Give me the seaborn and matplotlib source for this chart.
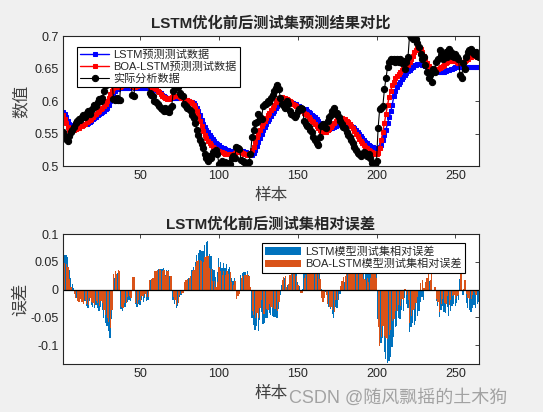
import numpy as np
import pandas as pd
import matplotlib
matplotlib.use("Agg")
import matplotlib.pyplot as plt
import seaborn as sns

# actual test data (black)
actual = [
    0.552, 0.546, 0.541, 0.538, 0.546, 0.552, 0.556, 0.560, 0.566, 0.570,
    0.572, 0.571, 0.575, 0.578, 0.576, 0.582, 0.585, 0.580, 0.586, 0.590,
    0.594, 0.592, 0.598, 0.603, 0.600, 0.605, 0.616, 0.625, 0.632, 0.642,
    0.657, 0.640, 0.603, 0.602, 0.605, 0.601, 0.602, 0.643, 0.645, 0.640,
    0.640, 0.634, 0.632, 0.634, 0.609, 0.608, 0.637, 0.640, 0.636, 0.638,
    0.632, 0.634, 0.630, 0.633, 0.632, 0.612, 0.610, 0.608, 0.600, 0.598,
    0.595, 0.592, 0.590, 0.588, 0.585, 0.590, 0.584, 0.583, 0.590, 0.592,
    0.615, 0.620, 0.625, 0.622, 0.612, 0.610, 0.608, 0.595, 0.592, 0.590,
    0.588, 0.585, 0.578, 0.574, 0.566, 0.555, 0.548, 0.540, 0.534, 0.528,
    0.518, 0.512, 0.508, 0.515, 0.513, 0.522, 0.520, 0.524, 0.518, 0.503,
    0.505, 0.508, 0.503, 0.506, 0.502, 0.505, 0.503, 0.512, 0.515, 0.512,
    0.530, 0.528, 0.526, 0.510, 0.508, 0.506, 0.505, 0.503, 0.506, 0.518,
    0.545, 0.555, 0.566, 0.568, 0.580, 0.575, 0.572, 0.592, 0.596, 0.595,
    0.600, 0.598, 0.605, 0.610, 0.615, 0.620, 0.625, 0.618, 0.605, 0.596,
    0.592, 0.590, 0.600, 0.595, 0.585, 0.580, 0.578, 0.575, 0.578, 0.585,
    0.588, 0.590, 0.588, 0.570, 0.565, 0.562, 0.560, 0.555, 0.552, 0.545,
    0.540, 0.535, 0.533, 0.545, 0.562, 0.565, 0.560, 0.558, 0.570, 0.575,
    0.578, 0.585, 0.590, 0.580, 0.582, 0.575, 0.570, 0.565, 0.560, 0.558,
    0.552, 0.548, 0.545, 0.540, 0.536, 0.530, 0.524, 0.520, 0.518, 0.515,
    0.518, 0.522, 0.520, 0.516, 0.518, 0.512, 0.505, 0.503, 0.502, 0.508,
    0.558, 0.588, 0.590, 0.592, 0.618, 0.635, 0.652, 0.660, 0.665, 0.662,
    0.665, 0.660, 0.665, 0.660, 0.665, 0.658, 0.662, 0.650, 0.660, 0.668,
    0.702, 0.698, 0.695, 0.700, 0.696, 0.690, 0.683, 0.672, 0.665, 0.668,
    0.655, 0.645, 0.635, 0.640, 0.630, 0.650, 0.645, 0.660, 0.665, 0.678,
    0.670, 0.665, 0.672, 0.675, 0.668, 0.680, 0.675, 0.670, 0.668, 0.672,
    0.668, 0.665, 0.640, 0.635, 0.658, 0.650, 0.668, 0.675, 0.678, 0.680,
    0.676, 0.672, 0.675, 0.670, 0.668,
]

# LSTM prediction (blue)
lstm_pred = [
    0.583, 0.580, 0.575, 0.570, 0.565, 0.563, 0.562, 0.562, 0.561, 0.561,
    0.561, 0.562, 0.563, 0.563, 0.564, 0.565, 0.566, 0.568, 0.570, 0.572,
    0.574, 0.576, 0.578, 0.580, 0.581, 0.583, 0.585, 0.587, 0.590, 0.594,
    0.600, 0.606, 0.611, 0.615, 0.618, 0.619, 0.620, 0.620, 0.620, 0.620,
    0.620, 0.620, 0.620, 0.621, 0.621, 0.621, 0.620, 0.620, 0.620, 0.620,
    0.620, 0.620, 0.620, 0.620, 0.620, 0.620, 0.620, 0.619, 0.618, 0.617,
    0.616, 0.614, 0.612, 0.610, 0.608, 0.606, 0.605, 0.604, 0.604, 0.604,
    0.604, 0.604, 0.604, 0.604, 0.604, 0.604, 0.604, 0.603, 0.602, 0.601,
    0.600, 0.599, 0.598, 0.597, 0.594, 0.590, 0.584, 0.578, 0.571, 0.565,
    0.560, 0.556, 0.552, 0.548, 0.544, 0.541, 0.538, 0.536, 0.534, 0.532,
    0.530, 0.528, 0.527, 0.526, 0.525, 0.524, 0.523, 0.523, 0.523, 0.523,
    0.523, 0.523, 0.523, 0.523, 0.523, 0.522, 0.521, 0.520, 0.519, 0.518,
    0.517, 0.520, 0.525, 0.531, 0.537, 0.543, 0.549, 0.555, 0.560, 0.565,
    0.569, 0.573, 0.577, 0.581, 0.585, 0.589, 0.593, 0.596, 0.599, 0.601,
    0.602, 0.602, 0.601, 0.600, 0.599, 0.598, 0.597, 0.596, 0.595, 0.593,
    0.592, 0.590, 0.589, 0.588, 0.587, 0.585, 0.583, 0.581, 0.579, 0.577,
    0.575, 0.572, 0.569, 0.566, 0.563, 0.560, 0.558, 0.556, 0.556, 0.557,
    0.558, 0.559, 0.560, 0.562, 0.563, 0.564, 0.565, 0.566, 0.566, 0.566,
    0.566, 0.565, 0.564, 0.562, 0.560, 0.558, 0.555, 0.552, 0.549, 0.546,
    0.543, 0.540, 0.537, 0.535, 0.533, 0.531, 0.530, 0.529, 0.528, 0.528,
    0.528, 0.530, 0.533, 0.540, 0.548, 0.556, 0.566, 0.575, 0.584, 0.594,
    0.608, 0.615, 0.621, 0.626, 0.630, 0.634, 0.637, 0.640, 0.643, 0.646,
    0.648, 0.651, 0.653, 0.655, 0.656, 0.657, 0.657, 0.657, 0.656, 0.655,
    0.654, 0.652, 0.651, 0.650, 0.649, 0.648, 0.647, 0.646, 0.645, 0.645,
    0.645, 0.645, 0.645, 0.646, 0.647, 0.648, 0.649, 0.650, 0.651, 0.652,
    0.652, 0.652, 0.652, 0.652, 0.652, 0.652, 0.652, 0.652, 0.653, 0.653,
    0.653, 0.653, 0.653, 0.653, 0.653,
]

# BOA-LSTM prediction (red)
boa_pred = [
    0.578, 0.572, 0.566, 0.560, 0.556, 0.555, 0.555, 0.556, 0.557, 0.558,
    0.559, 0.561, 0.562, 0.563, 0.565, 0.567, 0.569, 0.571, 0.573, 0.576,
    0.578, 0.580, 0.583, 0.585, 0.588, 0.590, 0.593, 0.596, 0.600, 0.605,
    0.611, 0.616, 0.620, 0.622, 0.622, 0.622, 0.622, 0.623, 0.624, 0.625,
    0.625, 0.625, 0.625, 0.624, 0.623, 0.622, 0.622, 0.623, 0.624, 0.625,
    0.625, 0.625, 0.625, 0.625, 0.624, 0.623, 0.622, 0.621, 0.620, 0.618,
    0.616, 0.614, 0.611, 0.608, 0.606, 0.604, 0.603, 0.603, 0.604, 0.606,
    0.607, 0.608, 0.608, 0.607, 0.606, 0.605, 0.604, 0.603, 0.602, 0.601,
    0.600, 0.599, 0.597, 0.594, 0.590, 0.584, 0.577, 0.569, 0.561, 0.554,
    0.548, 0.543, 0.539, 0.535, 0.532, 0.530, 0.528, 0.526, 0.525, 0.523,
    0.522, 0.521, 0.520, 0.519, 0.519, 0.519, 0.519, 0.519, 0.519, 0.520,
    0.521, 0.522, 0.522, 0.521, 0.520, 0.519, 0.518, 0.517, 0.518, 0.520,
    0.524, 0.530, 0.537, 0.544, 0.550, 0.556, 0.561, 0.566, 0.570, 0.574,
    0.578, 0.582, 0.586, 0.590, 0.594, 0.598, 0.601, 0.604, 0.605, 0.606,
    0.605, 0.604, 0.603, 0.601, 0.600, 0.598, 0.596, 0.594, 0.592, 0.590,
    0.588, 0.586, 0.584, 0.582, 0.580, 0.578, 0.576, 0.573, 0.570, 0.567,
    0.564, 0.561, 0.558, 0.555, 0.553, 0.552, 0.552, 0.553, 0.555, 0.557,
    0.560, 0.563, 0.566, 0.569, 0.571, 0.573, 0.574, 0.574, 0.573, 0.572,
    0.570, 0.568, 0.565, 0.562, 0.558, 0.554, 0.550, 0.546, 0.542, 0.538,
    0.535, 0.532, 0.529, 0.527, 0.525, 0.523, 0.521, 0.520, 0.519, 0.519,
    0.520, 0.528, 0.540, 0.553, 0.566, 0.580, 0.594, 0.606, 0.616, 0.624,
    0.630, 0.635, 0.639, 0.642, 0.645, 0.647, 0.649, 0.651, 0.653, 0.656,
    0.660, 0.665, 0.670, 0.675, 0.679, 0.681, 0.682, 0.680, 0.676, 0.670,
    0.664, 0.658, 0.654, 0.651, 0.649, 0.648, 0.648, 0.649, 0.650, 0.651,
    0.652, 0.654, 0.656, 0.658, 0.660, 0.661, 0.662, 0.662, 0.662, 0.661,
    0.660, 0.659, 0.658, 0.658, 0.659, 0.661, 0.663, 0.665, 0.667, 0.668,
    0.669, 0.669, 0.669, 0.668, 0.668,
]

x_ticks = [50, 100, 150, 200, 250]
top_yticks = [0.5, 0.55, 0.6, 0.65, 0.7]
top_ylabels = ["0.5", "0.55", "0.6", "0.65", "0.7"]
bot_yticks = [-0.1, -0.05, 0, 0.05, 0.1]
bot_ylabels = ["-0.1", "-0.05", "0", "0.05", "0.1"]

df = pd.DataFrame({"actual": actual, "lstm": lstm_pred, "boa": boa_pred})
df["sample"] = np.arange(1, len(df) + 1)
# relative error of each model on the test set
df["err_lstm"] = (df["lstm"] - df["actual"]) / df["actual"]
df["err_boa"] = (df["boa"] - df["actual"]) / df["actual"]

sns.set_style("white")
plt.rcParams["font.family"] = ["Liberation Sans", "Noto Sans CJK SC", "DejaVu Sans"]
plt.rcParams["axes.unicode_minus"] = False

fig = plt.figure(figsize=(5.43, 4.12), dpi=100, facecolor="#f0f0f0")
ax1 = fig.add_axes([0.116, 0.597, 0.766, 0.3155])
ax2 = fig.add_axes([0.116, 0.1165, 0.766, 0.3155])

sns.lineplot(data=df, x="sample", y="lstm", ax=ax1, color="blue", lw=1,
             marker="s", markersize=3.5, markeredgecolor="blue", label="LSTM预测测试数据")
sns.lineplot(data=df, x="sample", y="boa", ax=ax1, color="red", lw=1,
             marker="s", markersize=3.5, markeredgecolor="red", label="BOA-LSTM预测测试数据")
sns.lineplot(data=df, x="sample", y="actual", ax=ax1, color="black", lw=0.8,
             marker="o", markersize=4.5, markeredgecolor="black", label="实际分析数据")

ax1.set_xlim(1, 265)
ax1.set_ylim(0.5, 0.7)
ax1.set_yticks(top_yticks)
ax1.set_yticklabels(top_ylabels)
ax1.set_title("LSTM优化前后测试集预测结果对比", fontsize=11, fontweight="bold", pad=6)
ax1.set_ylabel("数值", fontsize=12, color="#404040", labelpad=4)
ax1.set_xlabel("样本", fontsize=12, color="#404040", labelpad=4)
leg1 = ax1.legend(loc="upper left", fontsize=8, frameon=True, fancybox=False, framealpha=1,
                  edgecolor="black", borderpad=0.3, labelspacing=0.15, handlelength=2.6,
                  handletextpad=0.4, bbox_to_anchor=(0.02, 0.96))
leg1.get_frame().set_linewidth(0.8)
leg1.set_zorder(10)

# grouped bars like MATLAB bar(x, [e1 e2]); orange drawn over blue
ax2.bar(df["sample"] - 0.1, df["err_lstm"], width=0.8, color="#0072BD",
        linewidth=0, label="LSTM模型测试集相对误差")
ax2.bar(df["sample"] + 0.1, df["err_boa"], width=0.8, color="#D95319",
        linewidth=0, label="BOA-LSTM模型测试集相对误差")
ax2.axhline(0, color="black", lw=0.9)
ax2.set_xlim(1, 265)
ax2.set_ylim(-0.134, 0.1)
ax2.set_yticks(bot_yticks)
ax2.set_yticklabels(bot_ylabels)
ax2.set_title("LSTM优化前后测试集相对误差", fontsize=11, fontweight="bold", pad=4)
ax2.set_ylabel("误差", fontsize=12, color="#404040", labelpad=2)
ax2.set_xlabel("样本", fontsize=12, color="#404040", labelpad=4)
leg2 = ax2.legend(loc="upper right", fontsize=8, frameon=True, fancybox=False, framealpha=1,
                  edgecolor="black", borderpad=0.3, labelspacing=0.15, handlelength=3.2,
                  handletextpad=0.4, bbox_to_anchor=(0.98, 0.97))
leg2.get_frame().set_linewidth(0.8)
leg2.set_zorder(10)

for ax in (ax1, ax2):
    ax.set_facecolor("white")
    ax.set_xticks(x_ticks)
    ax.tick_params(direction="in", top=True, right=True, length=3, width=0.6,
                   labelsize=9, colors="#262626", pad=3)
    for sp in ax.spines.values():
        sp.set_color("#262626")
        sp.set_linewidth(0.8)

fig.text(0.533, 0.035, "CSDN @随风飘摇的土木狗", fontsize=13, color="#9a9a9a",
         alpha=0.9, va="center", ha="left")

fig.savefig("out.png", dpi=100, facecolor=fig.get_facecolor())
